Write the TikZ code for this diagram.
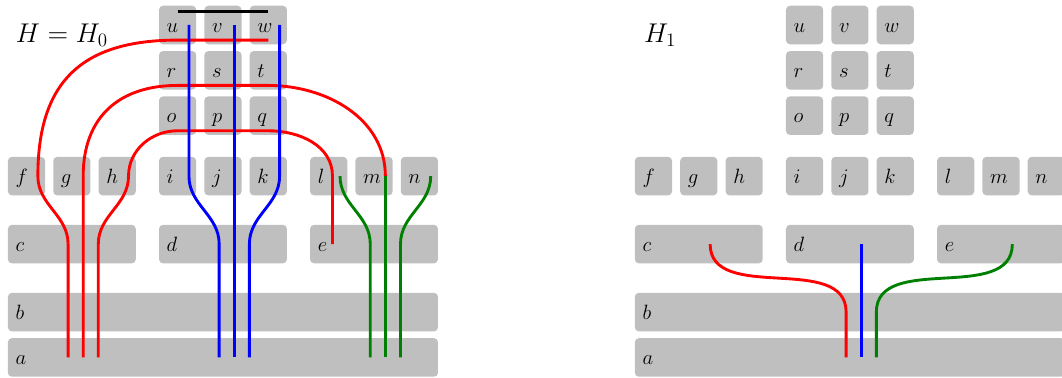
\documentclass[tikz,border=0pt]{standalone}
\usetikzlibrary{calc}

% scalable Computer Modern shapes, so that any font size is used as given
\DeclareFontShape{OML}{cmm}{m}{it}{<-9>cmmi7 <9->cmmi12}{}
\DeclareFontShape{OT1}{cmr}{m}{n}{<-9>cmr7 <9->cmr12}{}

\definecolor{boxgray}{gray}{0.75}
\definecolor{darkgreen}{rgb}{0,0.5,0}

\tikzset{
  box/.style={fill=boxgray, rounded corners=2.5pt, minimum height=0.85cm,
    inner ysep=0pt, inner xsep=0.17cm, align=left,
    text height=10pt, text depth=1pt, font=\fontsize{13}{15}\selectfont},
  cell/.style={box, text width=0.48cm},
  wide/.style={box, text width=#1},
  wire/.style={line width=1.8pt},
  title/.style={anchor=base west, inner sep=0pt, font=\fontsize{17}{20}\selectfont},
}

% One board of cells; #1 = name prefix, #2 = horizontal offset
\newcommand\board[2]{%
  \begin{scope}[xshift=#2cm]
    % top block
    \node[cell] (#1-u) at (3.918,-0.5515) {$u$};
    \node[cell] (#1-v) at (4.918,-0.5515) {$v$};
    \node[cell] (#1-w) at (5.918,-0.5515) {$w$};
    \node[cell] (#1-r) at (3.918,-1.5515) {$r$};
    \node[cell] (#1-s) at (4.918,-1.5515) {$s$};
    \node[cell] (#1-t) at (5.918,-1.5515) {$t$};
    \node[cell] (#1-o) at (3.918,-2.5515) {$o$};
    \node[cell] (#1-p) at (4.918,-2.5515) {$p$};
    \node[cell] (#1-q) at (5.918,-2.5515) {$q$};
    % row of nine
    \node[cell] (#1-f) at (0.585,-3.885) {$f$};
    \node[cell] (#1-g) at (1.585,-3.885) {$g$};
    \node[cell] (#1-h) at (2.585,-3.885) {$h$};
    \node[cell] (#1-i) at (3.918,-3.885) {$i$};
    \node[cell] (#1-j) at (4.918,-3.885) {$j$};
    \node[cell] (#1-k) at (5.918,-3.885) {$k$};
    \node[cell] (#1-l) at (7.251,-3.885) {$l$};
    \node[cell] (#1-m) at (8.251,-3.885) {$m$};
    \node[cell] (#1-n) at (9.251,-3.885) {$n$};
    % wide rows
    \node[wide=2.48cm] (#1-c) at (1.585,-5.385) {$c$};
    \node[wide=2.48cm] (#1-d) at (4.918,-5.385) {$d$};
    \node[wide=2.48cm] (#1-e) at (8.251,-5.385) {$e$};
    \node[wide=9.147cm] (#1-b) at (4.918,-6.885) {$b$};
    \node[wide=9.147cm] (#1-a) at (4.918,-7.885) {$a$};
  \end{scope}}

\begin{document}
\begin{tikzpicture}
\useasboundingbox (0,0) rectangle (23.427,-8.338);

\board{L}{0}
\board{R}{13.83}

\node[title] (H0) at (0.345,-0.94) {$H = H_0$};
\node[title] (H1) at (14.2,-0.94) {$H_1$};

% ---- left board: routed wires ----
\draw[wire] ($(L-u.center)+(0,0.3)$) -- ($(L-w.center)+(0,0.3)$);

\draw[wire,red]
  ($(L-g.center |- L-a.center)+(-0.0833,0)$) -- ($(L-g.center |- L-c.center)+(-0.0833,0)$)
  to[out=90,in=-90] ($(L-f.center)+(0.25,0)$)
  to[out=90,in=180,looseness=1.25] ($(L-u.center)+(0,-0.333)$)
  -- ($(L-w.center)+(0,-0.333)$);
\draw[wire,red]
  ($(L-g.center |- L-a.center)+(0.25,0)$) -- ($(L-g.center)+(0.25,0)$)
  to[out=90,in=180,looseness=1.15] ($(L-r.center)+(0,-0.333)$)
  -- ($(L-t.center)+(0,-0.333)$)
  to[out=0,in=90] ($(L-m.center)+(0.25,0)$);
\draw[wire,red]
  ($(L-g.center |- L-a.center)+(0.5833,0)$) -- ($(L-g.center |- L-c.center)+(0.5833,0)$)
  to[out=90,in=-90] ($(L-h.center)+(0.25,0)$)
  to[out=90,in=180] ($(L-o.center)+(0,-0.333)$)
  -- ($(L-q.center)+(0,-0.333)$)
  to[out=0,in=90] ($(L-l.center)+(0.0833,0)$)
  -- ($(L-l.center |- L-e.center)+(0.0833,0)$);

\draw[wire,blue]
  ($(L-u.center)+(0.25,0)$) -- ($(L-i.center)+(0.25,0)$)
  to[out=-90,in=90] ($(L-j.center |- L-d.center)+(-0.0833,0)$)
  -- ($(L-j.center |- L-a.center)+(-0.0833,0)$);
\draw[wire,blue]
  ($(L-v.center)+(0.25,0)$) -- ($(L-j.center |- L-a.center)+(0.25,0)$);
\draw[wire,blue]
  ($(L-w.center)+(0.25,0)$) -- ($(L-k.center)+(0.25,0)$)
  to[out=-90,in=90] ($(L-j.center |- L-d.center)+(0.5833,0)$)
  -- ($(L-j.center |- L-a.center)+(0.5833,0)$);

\draw[wire,darkgreen]
  ($(L-l.center)+(0.25,0)$)
  to[out=-90,in=90] ($(L-m.center |- L-e.center)+(-0.0833,0)$)
  -- ($(L-m.center |- L-a.center)+(-0.0833,0)$);
\draw[wire,darkgreen]
  ($(L-m.center)+(0.25,0)$) -- ($(L-m.center |- L-a.center)+(0.25,0)$);
\draw[wire,darkgreen]
  ($(L-n.center)+(0.25,0)$)
  to[out=-90,in=90] ($(L-m.center |- L-e.center)+(0.5833,0)$)
  -- ($(L-m.center |- L-a.center)+(0.5833,0)$);

% ---- right board: merged wires ----
\draw[wire,red]
  ($(R-g.center |- R-c.center)+(0.25,0)$)
  .. controls +(0,-1.32) and +(0,1.32) .. ($(R-j.center |- R-b.center)+(-0.0833,0)$)
  -- ($(R-j.center |- R-a.center)+(-0.0833,0)$);
\draw[wire,blue]
  ($(R-j.center |- R-d.center)+(0.25,0)$) -- ($(R-j.center |- R-a.center)+(0.25,0)$);
\draw[wire,darkgreen]
  ($(R-m.center |- R-e.center)+(0.25,0)$)
  .. controls +(0,-1.32) and +(0,1.32) .. ($(R-j.center |- R-b.center)+(0.5833,0)$)
  -- ($(R-j.center |- R-a.center)+(0.5833,0)$);
\end{tikzpicture}
\end{document}
